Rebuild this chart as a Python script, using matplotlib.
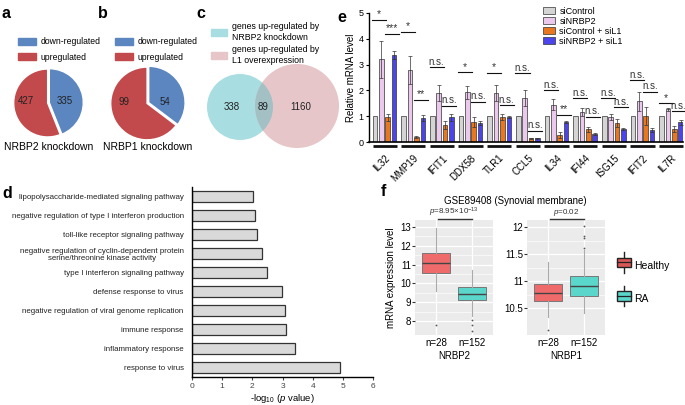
import matplotlib
matplotlib.use("Agg")
import matplotlib.pyplot as plt
import numpy as np
from matplotlib.patches import Patch, Circle, Rectangle
from matplotlib.lines import Line2D
from matplotlib.legend_handler import HandlerBase

plt.rcParams["font.family"] = ["Liberation Sans", "DejaVu Sans"]
plt.rcParams["mathtext.fontset"] = "custom"
plt.rcParams["mathtext.rm"] = "Liberation Sans"
plt.rcParams["mathtext.it"] = "Liberation Sans:italic"

# ---- data ----
pie_labels = ["down-regulated", "upregulated"]
pie_nrbp2 = [335, 427]
pie_nrbp1 = [54, 99]

venn_labels = ["genes up-regulated by\nNRBP2 knockdown", "genes up-regulated by\nL1 overexpression"]
venn_counts = [338, 89, 1160]

go_terms = [
    "lipopolysaccharide-mediated signaling pathway",
    "negative regulation of type I interferon production",
    "toll-like receptor signaling pathway",
    "negative regulation of cyclin-dependent protein\nserine/threonine kinase activity",
    "type I interferon signaling pathway",
    "defense response to virus",
    "negative regulation of viral genome replication",
    "immune response",
    "inflammatory response",
    "response to virus",
]
go_logp = [2.02, 2.08, 2.15, 2.33, 2.49, 2.98, 3.07, 3.10, 3.40, 4.89]

genes = ["IL32", "MMP19", "IFIT1", "DDX58", "TLR1", "CCL5", "IL34", "IFI44", "ISG15", "IFIT2", "IL7R"]
conditions = ["siControl", "siNRBP2", "siControl + siL1", "siNRBP2 + siL1"]
si_control = [1, 1, 1, 1, 1, 1, 1, 1, 1, 1, 1]
si_nrbp2 = [3.2, 2.8, 1.9, 1.93, 1.9, 1.7, 1.45, 1.15, 0.97, 1.57, 1.27]
si_ctrl_l1 = [0.95, 0.2, 0.65, 0.77, 0.97, 0.14, 0.27, 0.5, 0.75, 1.0, 0.5]
si_nrbp2_l1 = [3.37, 0.93, 0.95, 0.73, 0.97, 0.14, 0.77, 0.3, 0.52, 0.46, 0.77]
err_nrbp2 = [0.7, 0.55, 0.3, 0.25, 0.3, 0.3, 0.2, 0.15, 0.1, 0.35, 0.05]
err_ctrl_l1 = [0.15, 0.03, 0.15, 0.2, 0.1, 0.03, 0.1, 0.1, 0.15, 0.35, 0.12]
err_nrbp2_l1 = [0.15, 0.12, 0.12, 0.08, 0.05, 0.03, 0.05, 0.04, 0.04, 0.07, 0.1]
sig1 = ["*", "*", "n.s.", "*", "*", "n.s.", "n.s.", "n.s.", "n.s.", "n.s.", "*"]
sig1_y = [4.73, 4.26, 2.9, 2.7, 2.68, 2.67, 2.0, 1.7, 1.7, 2.4, 1.5]
sig2 = ["***", "**", "n.s.", "n.s.", "n.s.", "n.s.", "**", "n.s.", "n.s.", "n.s.", "n.s."]
sig2_y = [4.19, 1.63, 1.4, 1.55, 1.43, 0.43, 1.05, 0.97, 1.35, 1.94, 1.2]

box_genes = ["NRBP2", "NRBP1"]
box_groups = ["Healthy", "RA"]
box_n = ["n=28", "n=152"]
# whislo, q1, med, q3, whishi, fliers
nrbp2_healthy = [9.6, 10.55, 11.07, 11.6, 12.97, [7.78]]
nrbp2_ra = [8.26, 9.13, 9.45, 9.8, 10.7, [8.03, 7.79, 7.47]]
nrbp1_healthy = [10.33, 10.63, 10.77, 10.95, 11.35, [10.09]]
nrbp1_ra = [10.4, 10.72, 10.91, 11.09, 11.57, [11.62, 11.8, 11.83, 12.02]]
p_labels = [r"$p$=8.95$\times$10$^{-13}$", r"$p$=0.02"]

# ---- layout helpers (pixel coordinates) ----
W, H = 685, 405
fig = plt.figure(figsize=(W / 100, H / 100), dpi=100)


def pax(x0, y0, x1, y1):
    return fig.add_axes([x0 / W, 1 - y1 / H, (x1 - x0) / W, (y1 - y0) / H])


def ftext(x, y, s, **kw):
    fig.text(x / W, 1 - y / H, s, **kw)


def panel(x, y, s):
    ftext(x, y, s, fontsize=11.5, fontweight="bold", va="center", ha="left")


C_DOWN = "#5b86c0"
C_UP = "#c24a4c"

# ---- a, b: pies ----
for (x0, y0, x1, y1), vals, title, lab in [
    ((13, 68, 84, 139), pie_nrbp2, "NRBP2 knockdown", "a"),
    ((110, 66, 186, 142), pie_nrbp1, "NRBP1 knockdown", "b"),
]:
    ax = pax(x0, y0, x1, y1)
    _, _, autotexts = ax.pie(
        vals, colors=[C_DOWN, C_UP], startangle=90, counterclock=False,
        explode=(0.05, 0), autopct=lambda p, v=vals: f"{round(p * sum(v) / 100):d}",
        pctdistance=0.45, wedgeprops=dict(edgecolor="white", linewidth=1.0),
        textprops=dict(fontsize=7, color="#222"))
    for t in autotexts:
        px, py = t.get_position()
        t.set_position((0.5 if px > 0 else -0.64, 0.05))
    ax.set_aspect("equal")
    ax.set_xlim(-1.02, 1.07)
    ax.set_ylim(-1.06, 1.03)
    cx = (x0 + x1) / 2
    ftext(cx, 147, title, fontsize=7.5, ha="center", va="center")
    panel(x0 - 12, 14, lab)
    fig.legend([Patch(color=C_DOWN), Patch(color=C_UP)], pie_labels,
               loc="upper left", bbox_to_anchor=((x0 + 1) / W, 1 - 33 / H),
               frameon=False, fontsize=6.2, handlelength=2.0, handleheight=0.9,
               labelspacing=0.75, borderpad=0, handletextpad=0.6)

# ---- c: venn ----
panel(196, 14, "c")
C_CYAN = "#a8dde1"
C_PINK = "#e7c6c9"
axv = pax(195, 60, 345, 150)
axv.set_xlim(195, 345)
axv.set_ylim(150, 60)
axv.set_aspect("equal")
axv.axis("off")
c1 = Circle((240, 107), 33, fc=C_CYAN, ec="none")
c2 = Circle((297, 106), 42, fc=C_PINK, ec="none")
axv.add_patch(c1)
axv.add_patch(c2)
ov = Circle((240, 107), 33, fc="#a3c1c5", ec="none")
axv.add_patch(ov)
ov.set_clip_path(c2)
for xpos, n in zip([232, 263, 301], venn_counts):
    axv.text(xpos, 107, str(n), fontsize=7, ha="center", va="center", color="#222")
fig.legend([Patch(color=C_CYAN), Patch(color=C_PINK)], venn_labels,
           loc="upper left", bbox_to_anchor=(207 / W, 1 - 18 / H),
           frameon=False, fontsize=6.3, handlelength=1.8, handleheight=0.9,
           labelspacing=0.4, borderpad=0, handletextpad=0.6)

# ---- d: GO bar chart ----
panel(2, 193, "d")
axd = pax(192, 187, 373, 377)
yd = np.arange(len(go_terms))
axd.barh(yd, go_logp, height=0.58, color="#d9d9d9", edgecolor="#333", linewidth=0.9)
axd.set_ylim(len(go_terms) - 0.5, -0.5)
axd.set_xlim(0, 6)
axd.set_yticks(yd)
axd.set_yticklabels(go_terms, fontsize=5.7, color="#222")
for t in axd.get_yticklabels():
    t.set_multialignment("center")
axd.tick_params(axis="y", length=0, pad=6)
axd.set_xticks(range(7))
axd.tick_params(axis="x", labelsize=6, length=2.5, colors="#444", pad=2)
axd.spines["top"].set_visible(False)
axd.spines["right"].set_visible(False)
axd.spines["left"].set_linewidth(1.0)
axd.spines["bottom"].set_linewidth(1.0)
axd.set_xlabel(r"-log$_{10}$ ($p$ value)", fontsize=6.8, labelpad=1)

# ---- e: qPCR bars ----
panel(337, 18, "e")
axe = pax(369, 13, 683, 142)
colors_e = ["#d4d4d4", "#ebc9ec", "#e8771f", "#4c44ec"]
vals_e = [si_control, si_nrbp2, si_ctrl_l1, si_nrbp2_l1]
errs_e = [[0] * len(genes), err_nrbp2, err_ctrl_l1, err_nrbp2_l1]
pitch = 4.5
centers = np.arange(len(genes)) * pitch
offs = [-1.5, -0.5, 0.5, 1.5]
for k in range(4):
    xs = centers + offs[k]
    axe.bar(xs, vals_e[k], width=0.72, color=colors_e[k], edgecolor="#333",
            linewidth=0.5, label=conditions[k], zorder=2)
    if k > 0:
        axe.errorbar(xs, vals_e[k], yerr=errs_e[k], fmt="none", ecolor="#333",
                     elinewidth=0.5, capsize=1.2, capthick=0.5, zorder=3)
for g in range(len(genes)):
    c = centers[g]
    for (xa, xb), yb, s in [((c - 1.5, c - 0.5), sig1_y[g], sig1[g]),
                            ((c + 0.5, c + 1.5), sig2_y[g], sig2[g])]:
        axe.plot([xa - 0.45, xb + 0.75], [yb, yb], color="#111", lw=0.8, clip_on=False)
        axe.text((xa + xb) / 2 + 0.15, yb + 0.02, s, fontsize=7 if s == "n.s." else 7.5,
                 ha="center", va="bottom", color="#333")
    axe.plot([c - 1.9, c + 1.9], [-0.14, -0.14], color="#111", lw=2.0,
             clip_on=False, solid_capstyle="butt")
axe.set_xlim(-2.45, centers[-1] + 1.85)
axe.set_ylim(0, 5)
axe.set_yticks(range(6))
axe.tick_params(axis="y", labelsize=6.5, length=2.5, width=0.8, pad=1.5)
axe.set_xticks(centers)
axe.set_xticklabels(genes, rotation=45, ha="right", rotation_mode="anchor", fontsize=7)
axe.tick_params(axis="x", length=0, pad=8)
axe.spines["top"].set_visible(False)
axe.spines["right"].set_visible(False)
axe.spines["left"].set_linewidth(1.0)
axe.spines["bottom"].set_linewidth(1.2)
axe.set_ylabel("Relative mRNA level", fontsize=7, labelpad=2)
axe.legend(loc="upper left", bbox_to_anchor=(0.54, 1.085), frameon=False, fontsize=6.5,
           handlelength=1.3, handleheight=0.8, labelspacing=0.12, borderpad=0,
           handletextpad=0.5)

# ---- f: boxplots ----
panel(381, 192, "f")
C_H = "#ef6b6b"
C_RA = "#5ad6cb"
ftext(515, 201, "GSE89408 (Synovial membrane)", fontsize=7, ha="center", va="center")


def stats_from(lst, label):
    return dict(whislo=lst[0], q1=lst[1], med=lst[2], q3=lst[3], whishi=lst[4],
                fliers=lst[5], label=label)


box_axes = []
for (x0, x1), gene, data, ylim, ticks, plab in [
    ((415, 493), box_genes[0], [nrbp2_healthy, nrbp2_ra], (7.25, 13.37), [8, 9, 10, 11, 12, 13], p_labels[0]),
    ((527, 605), box_genes[1], [nrbp1_healthy, nrbp1_ra], (10.0, 12.13), [10.5, 11, 11.5, 12], p_labels[1]),
]:
    ax = pax(x0, 220, x1, 335)
    box_axes.append(ax)
    ax.set_facecolor("#ebebeb")
    stats = [stats_from(d, n) for d, n in zip(data, box_n)]
    bp = ax.bxp(stats, positions=[1, 2], widths=0.78, patch_artist=True, showcaps=False,
                boxprops=dict(edgecolor="#777", linewidth=0.7),
                medianprops=dict(color="#444", linewidth=1.0),
                whiskerprops=dict(color="#aaa", linewidth=0.8),
                flierprops=dict(marker="o", markersize=1.3, markerfacecolor="#555",
                                markeredgecolor="none"))
    for patch, col in zip(bp["boxes"], [C_H, C_RA]):
        patch.set_facecolor(col)
    ax.set_xlim(0.4, 2.6)
    ax.set_ylim(*ylim)
    ax.set_yticks(ticks)
    ax.set_yticklabels([f"{t:g}" for t in ticks])
    minor = [(a + b) / 2 for a, b in zip(ticks[:-1], ticks[1:])]
    ax.set_yticks(minor, minor=True)
    ax.grid(True, which="major", color="white", linewidth=0.9)
    ax.grid(True, which="minor", axis="y", color="white", linewidth=0.45)
    ax.set_axisbelow(True)
    ax.tick_params(which="minor", length=0)
    ax.tick_params(axis="y", labelsize=7, length=2, color="#333", pad=1)
    ax.tick_params(axis="x", labelsize=7, length=0, pad=2)
    for sp in ax.spines.values():
        sp.set_visible(False)
    ax.set_xlabel(gene, fontsize=7, labelpad=2)
    ax.plot([1.05, 2.0], [1.012, 1.012], transform=ax.get_xaxis_transform(), color="#333",
            lw=1.0, clip_on=False)
    ax.text(1.5, 1.065, plab, transform=ax.get_xaxis_transform(), fontsize=5.8,
            ha="center", va="center", color="#333")
box_axes[0].set_ylabel("mRNA expression level", fontsize=7, labelpad=3)


class BoxHandler(HandlerBase):
    def create_artists(self, legend, orig, xd, yd, w, h, fontsize, trans):
        col = orig.get_facecolor()
        cx = xd + w / 2
        wl = Line2D([cx, cx], [yd - h * 0.55, yd + h * 1.55], color="#222", lw=1.0, transform=trans)
        r = Rectangle((xd, yd), w, h, fc=col, ec="#222", lw=1.0, transform=trans)
        m = Line2D([xd, xd + w], [yd + h / 2] * 2, color="#222", lw=0.9, transform=trans)
        return [wl, r, m]


fig.legend([Patch(facecolor="#d95757"), Patch(facecolor=C_RA)], box_groups,
           handler_map={Patch: BoxHandler()}, loc="center left",
           bbox_to_anchor=(612 / W, 1 - 282 / H), frameon=False, fontsize=7.5,
           handlelength=1.35, handleheight=1.05, labelspacing=2.2, borderpad=0,
           handletextpad=0.3)

fig.savefig("out.png", dpi=100)
